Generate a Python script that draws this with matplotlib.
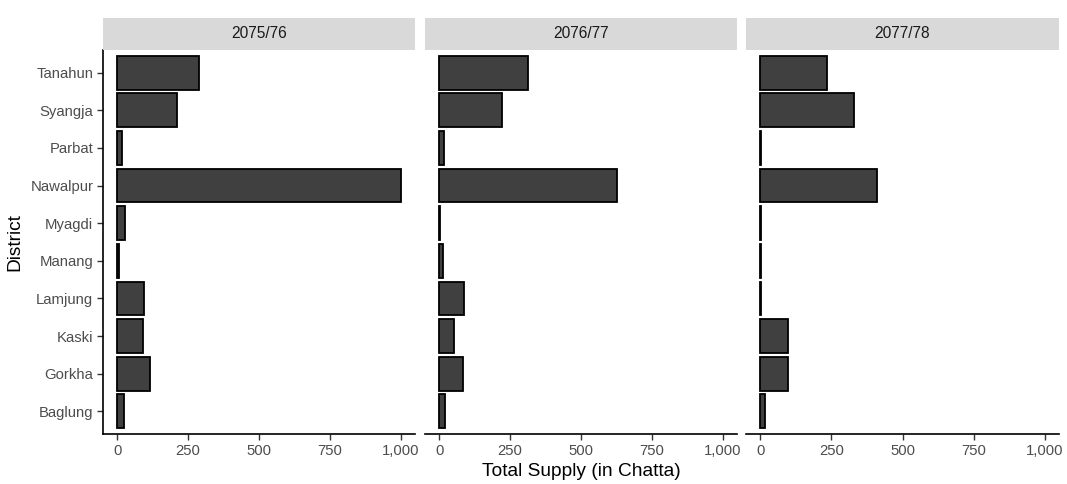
import matplotlib.pyplot as plt
from matplotlib.ticker import StrMethodFormatter

plt.rcParams['font.family'] = ['Liberation Sans', 'DejaVu Sans']

# districts from bottom to top, supply per fiscal year
districts = ["Baglung", "Gorkha", "Kaski", "Lamjung", "Manang",
             "Myagdi", "Nawalpur", "Parbat", "Syangja", "Tanahun"]
years = ["2075/76", "2076/77", "2077/78"]
supply_7576 = [25, 115, 90, 95, 8, 27, 1000, 16, 211, 288]
supply_7677 = [22, 83, 52, 86, 13, 2, 627, 16, 221, 313]
supply_7778 = [17, 97, 98, 4, 4, 1, 409, 2, 331, 236]
supply = [supply_7576, supply_7677, supply_7778]

W, H = 1067, 484
fig = plt.figure(figsize=(W / 100, H / 100), dpi=100)

# panel boxes in pixels (left, right)
panels = [(103, 415), (425, 737), (746, 1059)]
top, bottom = 50, 434
strip_top = 18

tick_col = '#4D4D4D'
for i, (l, r) in enumerate(panels):
    ax = fig.add_axes([l / W, 1 - bottom / H, (r - l) / W, (bottom - top) / H])
    ax.barh(range(len(districts)), supply[i], height=0.9,
            color='#404040', edgecolor='black', linewidth=1.3)
    ax.set_xlim(-50, 1050)
    ax.set_ylim(-0.6, len(districts) - 0.4)
    ax.set_xticks([0, 250, 500, 750, 1000])
    ax.xaxis.set_major_formatter(StrMethodFormatter('{x:,.0f}'))
    for s in ['top', 'right']:
        ax.spines[s].set_visible(False)
    ax.spines['bottom'].set_linewidth(1.2)
    ax.spines['left'].set_linewidth(1.2)
    ax.tick_params(axis='both', length=4, width=1, color='#333333',
                   labelcolor=tick_col, labelsize=10.7, pad=3)
    if i == 0:
        ax.set_yticks(range(len(districts)))
        ax.set_yticklabels(districts)
        ax.set_ylabel('District', fontsize=13.8, labelpad=5)
    else:
        ax.spines['left'].set_visible(False)
        ax.set_yticks([])
    if i == 1:
        ax.set_xlabel('Total Supply (in Chatta)', fontsize=13.8, labelpad=4)

    # facet strip
    sx = fig.add_axes([l / W, 1 - top / H, (r - l) / W, (top - strip_top) / H])
    sx.set_facecolor('#D9D9D9')
    sx.set_xticks([])
    sx.set_yticks([])
    for s in sx.spines.values():
        s.set_visible(False)
    sx.text(0.5, 0.5, years[i], ha='center', va='center',
            fontsize=11.2, color='#1A1A1A', transform=sx.transAxes)

fig.savefig('out.png', dpi=100)
